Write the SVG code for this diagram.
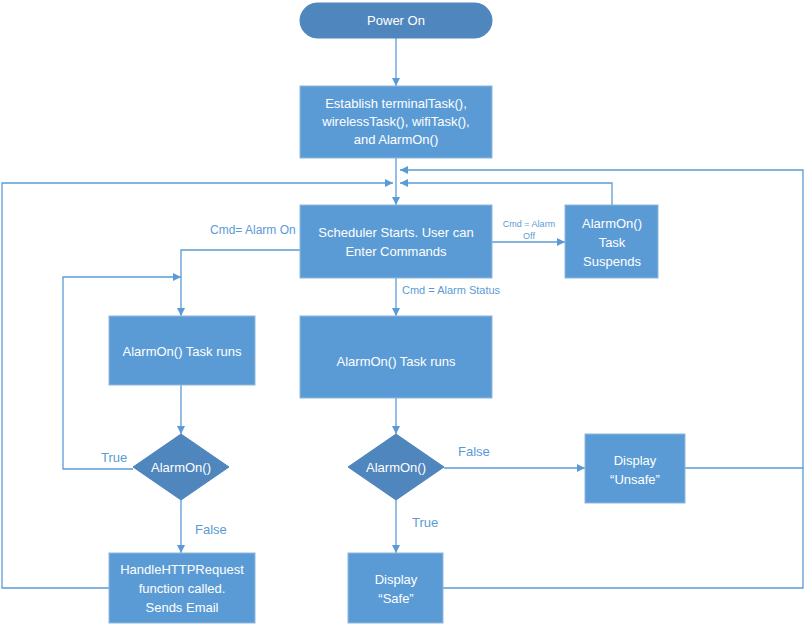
<svg xmlns="http://www.w3.org/2000/svg" width="805" height="633" viewBox="0 0 805 633">
<style>
.b{fill:#5b9bd5;stroke:#8fb7de;stroke-width:1}
.d{fill:#4f86bd;stroke:#4f86bd}
.t{fill:#fff;font-family:"Liberation Sans",Arial,sans-serif;font-size:13px;text-anchor:middle}
.l{fill:#5b9bd5;font-family:"Liberation Sans",Arial,sans-serif;font-size:12px}
.s{font-size:9px;text-anchor:middle}
.m{font-size:11px}
.g{font-size:13px}
.c{fill:none;stroke:#5b9bd5;stroke-width:1.3}
</style>
<defs><marker id="a" viewBox="0 0 10 10" refX="10" refY="5" markerWidth="8" markerHeight="8" orient="auto" markerUnits="userSpaceOnUse"><path d="M0,0L10,5L0,10z" fill="#5b9bd5"/></marker></defs>
<rect width="805" height="633" fill="#fff"/>
<g id="connectors">
<path class="c" d="M396,38V86" marker-end="url(#a)"/>
<path class="c" d="M396,158V205" marker-end="url(#a)"/>
<path class="c" d="M109,588H2V183H393" marker-end="url(#a)"/>
<path class="c" d="M685,468H803V170H400" marker-end="url(#a)"/>
<path class="c" d="M443,588H803V468"/>
<path class="c" d="M612,205V183H400" marker-end="url(#a)"/>
<path class="c" d="M492,242H565" marker-end="url(#a)"/>
<path class="c" d="M300,250H181V316" marker-end="url(#a)"/>
<path class="c" d="M181,385V434" marker-end="url(#a)"/>
<path class="c" d="M133,469H63V277H181" marker-end="url(#a)"/>
<path class="c" d="M181,500V553" marker-end="url(#a)"/>
<path class="c" d="M396,278V316" marker-end="url(#a)"/>
<path class="c" d="M396,398V434" marker-end="url(#a)"/>
<path class="c" d="M444,468H585" marker-end="url(#a)"/>
<path class="c" d="M396,500V553" marker-end="url(#a)"/>
<text class="l" x="210" y="234">Cmd= Alarm On</text>
<text class="l s" x="529" y="227">Cmd = Alarm</text>
<text class="l s" x="529" y="239">Off</text>
<text class="l m" x="402" y="294">Cmd = Alarm Status</text>
<text class="l g" x="101" y="462">True</text>
<text class="l g" x="195" y="534">False</text>
<text class="l g" x="458" y="456">False</text>
<text class="l g" x="412" y="527">True</text>
</g>
<g id="power"><rect class="d" x="300" y="3" width="192" height="35" rx="17.5" fill="#5b9bd5"/><text class="t" x="396" y="25">Power On</text></g>
<g id="establish"><rect class="b" x="300" y="86" width="192" height="72"/><text class="t" x="396" y="108">Establish terminalTask(),</text><text class="t" x="396" y="126">wirelessTask(), wifiTask(),</text><text class="t" x="396" y="144">and AlarmOn()</text></g>
<g id="scheduler"><rect class="b" x="300" y="205" width="192" height="73"/><text class="t" x="396" y="237">Scheduler Starts. User can</text><text class="t" x="396" y="256">Enter Commands</text></g>
<g id="suspend"><rect class="b" x="565" y="205" width="93" height="73"/><text class="t" x="612" y="228">AlarmOn()</text><text class="t" x="612" y="247">Task</text><text class="t" x="612" y="266">Suspends</text></g>
<g id="taskL"><rect class="b" x="109" y="316" width="146" height="69"/><text class="t" x="182" y="356">AlarmOn() Task runs</text></g>
<g id="taskM"><rect class="b" x="300" y="316" width="192" height="82"/><text class="t" x="396" y="366">AlarmOn() Task runs</text></g>
<g id="decL"><path class="d" d="M181,434L229,467L181,500L133,467z"/><text class="t" x="181" y="472">AlarmOn()</text></g>
<g id="decM"><path class="d" d="M396,434L444,467L396,500L348,467z"/><text class="t" x="396" y="472">AlarmOn()</text></g>
<g id="unsafe"><rect class="b" x="585" y="434" width="100" height="69"/><text class="t" x="635" y="465">Display</text><text class="t" x="635" y="484">“Unsafe”</text></g>
<g id="http"><rect class="b" x="109" y="553" width="146" height="70"/><text class="t" x="182" y="574">HandleHTTPRequest</text><text class="t" x="182" y="593">function called.</text><text class="t" x="182" y="612">Sends Email</text></g>
<g id="safe"><rect class="b" x="348" y="553" width="95" height="70"/><text class="t" x="396" y="584">Display</text><text class="t" x="396" y="603">“Safe”</text></g>
</svg>
